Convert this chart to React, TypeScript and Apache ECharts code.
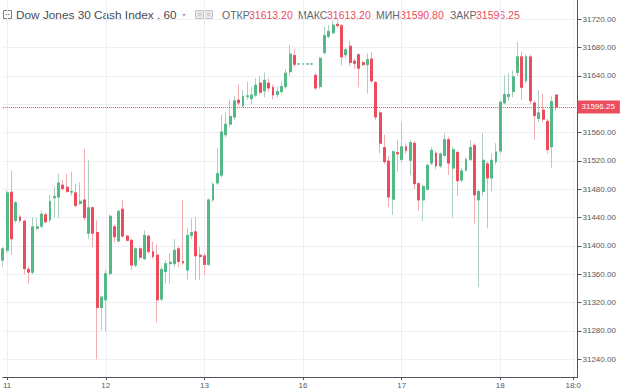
import React, { useEffect, useRef } from 'react';
import * as echarts from 'echarts';

// hourly candles, Dow Jones 30 Cash Index
const opens = [
  31380, 31394, 31476, 31436, 31441, 31435, 31367, 31363, 31425, 31428,
  31444, 31437, 31468, 31469, 31486, 31483, 31476, 31475, 31460, 31465,
  31418, 31454, 31419, 31313, 31324, 31361, 31427, 31407, 31452, 31414,
  31408, 31373, 31396, 31382, 31414, 31392, 31387, 31325, 31364, 31375,
  31375, 31396, 31378, 31366, 31415, 31420, 31387, 31386, 31374, 31465,
  31489, 31500, 31557, 31572, 31582, 31606, 31598, 31611, 31608, 31613,
  31630, 31619, 31630, 31624, 31614, 31618, 31625, 31646, 31669, 31657,
  31657, 31657, 31657, 31641, 31625, 31673, 31696, 31701, 31713, 31711,
  31670, 31682, 31661, 31670, 31659, 31656, 31664, 31631, 31588, 31539,
  31520, 31466, 31532, 31522, 31540, 31521, 31545, 31488, 31465, 31480,
  31517, 31531, 31513, 31528, 31550, 31510, 31532, 31493, 31507, 31522,
  31542, 31465, 31477, 31516, 31496, 31519, 31534, 31602, 31611, 31618,
  31645, 31667, 31633, 31667, 31602, 31580, 31592, 31576, 31540, 31613.2,
];
const closes = [
  31396, 31475, 31410, 31461, 31436, 31368, 31363, 31427, 31427, 31445,
  31434, 31463, 31470, 31489, 31481, 31477, 31477, 31457, 31463, 31440,
  31454, 31418, 31313, 31328, 31361, 31442, 31413, 31449, 31414, 31408,
  31373, 31396, 31384, 31415, 31392, 31385, 31324, 31367, 31375, 31377,
  31394, 31378, 31376, 31415, 31419, 31386, 31385, 31374, 31465, 31487,
  31502, 31561, 31572, 31583, 31605, 31602, 31611, 31612, 31613, 31627,
  31617, 31634, 31623, 31613, 31618, 31625, 31644, 31671, 31656.5, 31657,
  31657, 31657, 31657, 31623, 31665, 31697, 31703, 31712, 31711, 31667,
  31677, 31659, 31658, 31651, 31656, 31663, 31633, 31582, 31545, 31519,
  31469, 31533, 31530, 31540, 31535, 31546, 31488, 31465, 31484, 31514,
  31535, 31513, 31530, 31550, 31517, 31536, 31492, 31506, 31522, 31539,
  31472, 31477, 31521, 31496, 31521, 31533, 31603, 31614, 31614, 31639,
  31667, 31624, 31667, 31605, 31584, 31588, 31579, 31536, 31604, 31596.25,
];
const lows = [
  31370, 31390, 31387, 31432, 31433, 31360, 31347, 31360, 31422, 31425,
  31432, 31434, 31440, 31440, 31478, 31475, 31471, 31455, 31458, 31436,
  31410, 31398, 31240, 31281, 31280, 31358, 31405, 31405, 31412, 31406,
  31366, 31370, 31380, 31380, 31389, 31382, 31292, 31322, 31347, 31347,
  31370, 31370, 31373, 31352, 31410, 31352, 31352, 31359, 31372, 31462,
  31486, 31497, 31553, 31568, 31578, 31598, 31596, 31606, 31600, 31610,
  31614, 31610, 31618, 31607, 31610, 31615, 31622, 31640, 31653, 31657,
  31657, 31657, 31657, 31620, 31622, 31670, 31693, 31699, 31708, 31655,
  31665, 31654, 31650, 31624, 31654, 31615, 31630, 31578, 31531, 31516,
  31455, 31444, 31505, 31518, 31530, 31500, 31480, 31450, 31435, 31478,
  31514, 31508, 31510, 31526, 31500, 31440, 31470, 31490, 31505, 31520,
  31432, 31342, 31470, 31425, 31477, 31515, 31530, 31600, 31605, 31610,
  31640, 31606, 31630, 31600, 31550, 31575, 31575, 31530, 31510, 31590.8,
];
const highs = [
  31399, 31478, 31507, 31463, 31444, 31437, 31371, 31441, 31440, 31450,
  31447, 31472, 31484, 31502, 31493, 31502, 31505, 31488, 31490, 31537,
  31521, 31456, 31436, 31330, 31366, 31444, 31430, 31451, 31465, 31416,
  31410, 31398, 31398, 31422, 31416, 31406, 31402, 31371, 31380, 31390,
  31410, 31400, 31465, 31425, 31439, 31441, 31399, 31390, 31467, 31490,
  31538, 31585, 31589, 31607, 31612, 31628, 31620, 31632, 31625, 31637,
  31640, 31645, 31637, 31628, 31625, 31632, 31650, 31684, 31678, 31657,
  31657, 31657, 31657, 31644, 31667, 31710, 31712, 31718, 31720, 31713,
  31680, 31690, 31665, 31672, 31661, 31672, 31674, 31633, 31591, 31557,
  31527, 31535, 31550, 31575, 31545, 31550, 31548, 31490, 31486, 31516,
  31540, 31534, 31532, 31559, 31554, 31540, 31535, 31510, 31525, 31550,
  31545, 31480, 31559, 31520, 31530, 31545, 31606, 31641, 31644, 31648,
  31688, 31674, 31670, 31670, 31605, 31620, 31615, 31580, 31611, 31613.2,
];

const slotCount = 135; // hourly slots shown on the time axis (incl. empty right margin)
const timeTickIndexes = [1, 24, 47, 70, 93, 116, 133];
const timeTickLabels = ['11', '12', '13', '16', '17', '18', '18:0'];
// grid lines / ticks of the price scale
const priceTicks = [
  31240, 31280, 31320, 31360, 31400, 31440, 31480,
  31520, 31560, 31600, 31640, 31680, 31720,
];
// labelled prices (31600 is covered by the last-price tag)
const priceLabels = [
  31240, 31280, 31320, 31360, 31400, 31440, 31480,
  31520, 31560, 31640, 31680, 31720,
];
const priceMin = 31215;
const priceMax = 31747.3;

const headerTitle = 'Dow Jones 30 Cash Index , 60';
const headerNames = ['ОТКР', 'МАКС', 'МИН', 'ЗАКР'];
const headerValues = ['31613.20', '31613.20', '31590.80', '31596.25'];
const lastPrice = 31596.25;

const UP = '#53b987';
const DOWN = '#eb4d5c';
const UP_WICK = '#add0c1';
const DOWN_WICK = '#f5adb4';
const GRID = '#eceff4';
const AXIS = '#50535e';
const TEXT = '#555a63';
const FONT = 'Liberation Sans, Arial, sans-serif';

export default function App() {
  const ref = useRef<HTMLDivElement>(null);

  useEffect(() => {
    if (!ref.current) return;
    const chart = echarts.init(ref.current, undefined, { renderer: 'svg' });

    const categories = Array.from({ length: slotCount }, (_, i) => String(i));
    const tickSet = new Set(timeTickIndexes);
    const labelOf = (i: number) => timeTickLabels[timeTickIndexes.indexOf(i)];
    const isTick = (i: number) => tickSet.has(i);

    const fullData = opens.map((o, i) => [o, closes[i], lows[i], highs[i]]);
    const bodyData = opens.map((o, i) => [
      o,
      closes[i],
      Math.min(o, closes[i]),
      Math.max(o, closes[i]),
    ]);

    const headerPos = [
      [222, 249],
      [298, 327],
      [376, 400],
      [450, 476],
    ];
    const headerY = 15;
    const headerTexts: any[] = [];
    headerNames.forEach((n, k) => {
      headerTexts.push({
        type: 'text',
        x: headerPos[k][0],
        y: headerY,
        style: {
          text: n,
          fill: '#62666f',
          font: `10.5px ${FONT}`,
          textVerticalAlign: 'middle',
        },
      });
      headerTexts.push({
        type: 'text',
        x: headerPos[k][1],
        y: headerY,
        style: {
          text: headerValues[k],
          fill: DOWN,
          font: `10.5px ${FONT}`,
          textVerticalAlign: 'middle',
        },
      });
    });

    chart.setOption({
      animation: false,
      backgroundColor: '#ffffff',
      grid: { left: 0, right: 42.5, top: 0, bottom: 14, containLabel: false },
      xAxis: {
        type: 'category',
        data: categories,
        boundaryGap: false,
        axisLine: { show: true, lineStyle: { color: AXIS, width: 1 } },
        axisTick: {
          show: true,
          length: 3,
          interval: (i: number) => isTick(i),
          lineStyle: { color: AXIS },
        },
        axisLabel: {
          interval: (i: number) => isTick(i),
          formatter: (_v: string, i: number) => labelOf(i) ?? '',
          fontSize: 8,
          fontFamily: FONT,
          color: TEXT,
          margin: 4,
        },
        splitLine: {
          show: true,
          interval: (i: number) => isTick(i),
          lineStyle: { color: GRID, width: 1 },
        },
      },
      yAxis: {
        type: 'value',
        position: 'right',
        min: priceMin,
        max: priceMax,
        axisLine: { show: true, lineStyle: { color: AXIS, width: 1 } },
        axisTick: {
          show: true,
          length: 4,
          customValues: priceTicks,
          lineStyle: { color: AXIS },
        },
        axisLabel: {
          customValues: priceLabels,
          formatter: (v: number) => v.toFixed(2),
          fontSize: 8,
          fontFamily: FONT,
          color: TEXT,
          margin: 5,
        },
        splitLine: { show: true, lineStyle: { color: GRID, width: 1 } },
      },
      series: [
        {
          type: 'candlestick',
          data: fullData,
          barWidth: 2.4,
          clip: true,
          itemStyle: {
            color: UP_WICK,
            color0: DOWN_WICK,
            borderColor: UP_WICK,
            borderColor0: DOWN_WICK,
            borderWidth: 1,
          },
          silent: true,
          z: 2,
        },
        {
          type: 'candlestick',
          data: bodyData,
          barWidth: 2.4,
          clip: true,
          itemStyle: {
            color: UP,
            color0: DOWN,
            borderColor: UP,
            borderColor0: DOWN,
            borderWidth: 1,
          },
          silent: true,
          z: 3,
          markLine: {
            silent: true,
            symbol: ['none', 'none'],
            data: [{ yAxis: lastPrice }],
            lineStyle: { color: DOWN, type: 'dotted', width: 1 },
            label: {
              show: true,
              position: 'end',
              distance: 0,
              formatter: () => lastPrice.toFixed(2),
              color: '#ffffff',
              backgroundColor: DOWN,
              padding: [3, 5, 2, 4],
              fontSize: 8,
              fontFamily: FONT,
            },
          },
        },
      ],
      graphic: [
        {
          type: 'rect',
          shape: { x: 3.5, y: 10.5, width: 8, height: 8 },
          style: { fill: 'none', stroke: '#7a7d85', lineWidth: 1 },
        },
        {
          type: 'line',
          shape: { x1: 5.5, y1: 14.5, x2: 9.5, y2: 14.5 },
          style: { stroke: '#7a7d85', lineWidth: 1 },
        },
        {
          type: 'text',
          x: 16,
          y: headerY,
          style: {
            text: headerTitle,
            fill: '#4a4d55',
            font: `11.8px ${FONT}`,
            textVerticalAlign: 'middle',
          },
        },
        {
          type: 'polygon',
          shape: { points: [[182, 14], [186, 14], [184, 16.5]] },
          style: { fill: '#a0a3aa' },
        },
        {
          type: 'rect',
          shape: { x: 195.5, y: 10.5, width: 8, height: 8 },
          style: { fill: '#eeeeee', stroke: '#c2c4c9', lineWidth: 1 },
        },
        {
          type: 'rect',
          shape: { x: 197.5, y: 12.5, width: 4, height: 4 },
          style: { fill: '#d2d4d8' },
        },
        {
          type: 'rect',
          shape: { x: 204.5, y: 10.5, width: 8, height: 8 },
          style: { fill: '#eeeeee', stroke: '#c2c4c9', lineWidth: 1 },
        },
        {
          type: 'rect',
          shape: { x: 206.5, y: 12.5, width: 4, height: 4 },
          style: { fill: '#d2d4d8' },
        },
        ...headerTexts,
      ],
    });

    return () => chart.dispose();
  }, []);

  return (
    <div
      ref={ref}
      style={{ position: 'fixed', left: 0, top: 0, width: 620, height: 391 }}
    />
  );
}
